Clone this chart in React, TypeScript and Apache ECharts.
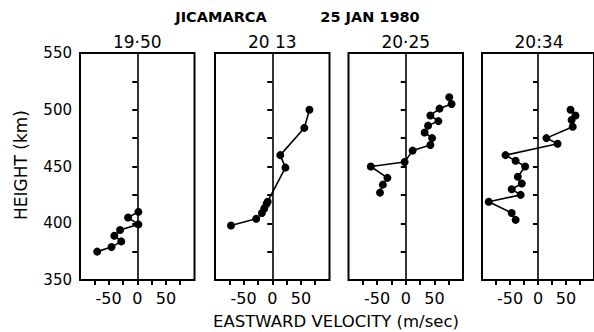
import React, { useEffect, useRef } from "react";
import * as echarts from "echarts";

const panelTitles = ["19·50", "20 13", "20·25", "20:34"];

const heights1950 = [375, 379, 384, 389, 394, 399, 405, 410];
const vel1950 = [-70, -45, -28, -40, -30, 2, -16, 2];

const heights2013 = [398, 404, 409, 413, 417, 419, 449, 460, 484, 500];
const vel2013 = [-72, -28, -18, -14, -10, -8, 23, 14, 56, 65];

const heights2025 = [427, 434, 440, 450, 454, 464, 469, 475, 480, 486, 490, 495, 501, 505, 511];
const vel2025 = [-45, -40, -32, -61, -2, 12, 43, 46, 33, 39, 57, 43, 59, 80, 76];

const heights2034 = [403, 409, 419, 425, 430, 435, 441, 450, 455, 460, 470, 475, 485, 491, 495, 500];
const vel2034 = [-40, -47, -88, -31, -47, -29, -36, -23, -40, -58, 35, 15, 62, 60, 67, 58];

const xTickValues = [-75, -50, -25, 0, 25, 50, 75];
const xLabelValues = [-50, 0, 50];

const mainTitle1 = "JICAMARCA";
const mainTitle2 = "25 JAN 1980";
const xName = "EASTWARD VELOCITY (m/sec)";
const yName = "HEIGHT (km)";

const panelLefts = [80, 215, 348.5, 482];
const panelWidths = [114.5, 114.5, 114.5, 114];
const FONT = "DejaVu Sans";

export default function App() {
  const ref = useRef<HTMLDivElement>(null);
  useEffect(() => {
    if (!ref.current) return;
    const chart = echarts.init(ref.current, null, { renderer: "svg" });
    const allH = [heights1950, heights2013, heights2025, heights2034];
    const allV = [vel1950, vel2013, vel2025, vel2034];
    const grids = panelLefts.map((l, i) => ({
      left: l,
      top: 53,
      width: panelWidths[i],
      height: 227,
      show: true,
      borderColor: "#000",
      borderWidth: 2,
      backgroundColor: "transparent",
    }));
    const xAxes = panelLefts.map((_, i) => ({
      type: "value",
      gridIndex: i,
      min: -100,
      max: 100,
      interval: 25,
      axisLine: { show: false },
      splitLine: { show: false },
      axisTick: {
        show: true,
        length: 5,
        inside: false,
        customValues: xTickValues,
        lineStyle: { color: "#000", width: 2 },
      },
      axisLabel: {
        show: true,
        customValues: xLabelValues,
        margin: 10,
        color: "#000",
        fontFamily: FONT,
        fontSize: 16,
      },
    }));
    const yAxes = panelLefts.map((_, i) => ({
      type: "value",
      gridIndex: i,
      min: 350,
      max: 550,
      interval: 25,
      axisLine: { show: false },
      splitLine: { show: false },
      axisTick: {
        show: true,
        length: 5,
        inside: false,
        lineStyle: { color: "#000", width: 2 },
      },
      axisLabel: {
        show: i === 0,
        margin: 8,
        color: "#000",
        fontFamily: FONT,
        fontSize: 15,
        formatter: (v: number) => (v % 50 === 0 ? String(v) : ""),
      },
    }));
    const series = allH.map((h, i) => ({
      type: "line",
      xAxisIndex: i,
      yAxisIndex: i,
      data: h.map((hv, j) => [allV[i][j], hv]),
      symbol: "circle",
      symbolSize: 8,
      itemStyle: { color: "#000" },
      lineStyle: { color: "#000", width: 1.6 },
      markLine: {
        silent: true,
        symbol: ["none", "none"],
        label: { show: false },
        lineStyle: { color: "#000", width: 1.6, type: "solid" },
        data: [{ xAxis: 0 }],
      },
    }));
    const titleGraphics = panelLefts.map((l, i) => ({
      type: "text",
      x: l + panelWidths[i] / 2,
      y: 42,
      style: {
        text: panelTitles[i],
        fill: "#000",
        font: `17px "${FONT}"`,
        textAlign: "center",
        textVerticalAlign: "middle",
      },
    }));
    chart.setOption({
      animation: false,
      backgroundColor: "#fff",
      grid: grids,
      xAxis: xAxes,
      yAxis: yAxes,
      series,
      graphic: [
        ...titleGraphics,
        {
          type: "text",
          x: 221,
          y: 17,
          style: {
            text: mainTitle1,
            fill: "#000",
            font: `bold 14.5px "${FONT}"`,
            textAlign: "center",
            textVerticalAlign: "middle",
          },
        },
        {
          type: "text",
          x: 370,
          y: 17,
          style: {
            text: mainTitle2,
            fill: "#000",
            font: `bold 14.5px "${FONT}"`,
            textAlign: "center",
            textVerticalAlign: "middle",
          },
        },
        {
          type: "text",
          x: 336,
          y: 321,
          style: {
            text: xName,
            fill: "#000",
            font: `16.5px "${FONT}"`,
            textAlign: "center",
            textVerticalAlign: "middle",
          },
        },
        {
          type: "text",
          x: 21,
          y: 165,
          rotation: Math.PI / 2,
          style: {
            text: yName,
            fill: "#000",
            font: `17px "${FONT}"`,
            textAlign: "center",
            textVerticalAlign: "middle",
          },
        },
      ],
    });
    return () => chart.dispose();
  }, []);
  return (
    <div
      ref={ref}
      style={{ position: "fixed", left: 0, top: 0, width: 594, height: 332 }}
    />
  );
}
